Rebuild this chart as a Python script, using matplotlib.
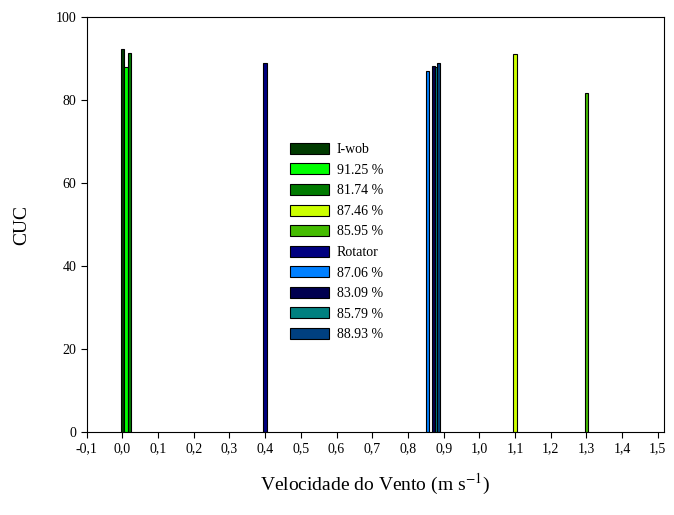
import matplotlib
matplotlib.use("Agg")
import matplotlib.pyplot as plt
import numpy as np

plt.rcParams['font.family'] = ['Liberation Serif', 'DejaVu Serif']
plt.rcParams['mathtext.fontset'] = 'stix'

# series: legend label, bar position (m/s), CUC value, colour
labels = ["I-wob", "91.25 %", "81.74 %", "87.46 %", "85.95 %",
          "Rotator", "87.06 %", "83.09 %", "85.79 %", "88.93 %"]
vento = [0.0, 0.01, 0.02, 1.1, 1.3,
         0.40, 0.855, 0.872, 0.880, 0.885]
cuc = [92.2, 88.0, 91.4, 91.2, 81.7,
       89.0, 87.0, 88.3, 88.0, 88.9]
cores = ["#003a00", "#00ff00", "#007a00", "#ccff00", "#44bb00",
         "#000080", "#0080ff", "#000050", "#008080", "#004080"]

xticks = np.round(np.arange(-0.1, 1.51, 0.1), 1)
xticklabels = [f"{t:.1f}".replace(".", ",") for t in xticks]

fig = plt.figure(figsize=(6.74, 5.15), dpi=100)
ax = fig.add_axes([0.1286, 0.161, 0.8564, 0.806])

for lab, x, v, c in zip(labels, vento, cuc, cores):
    ax.bar(x, v, width=0.01, color=c, edgecolor='black', linewidth=0.8, label=lab)

ax.set_xlim(-0.1, 1.517)
ax.set_ylim(0, 100)
ax.set_xticks(xticks)
ax.set_xticklabels(xticklabels, fontsize=10)
ax.set_yticks(range(0, 101, 20))
ax.tick_params(axis='y', labelsize=10)
ax.tick_params(direction='out', length=4, width=0.8)
for s in ax.spines.values():
    s.set_linewidth(0.8)

ax.set_ylabel("CUC", fontsize=14, labelpad=18)
ax.set_xlabel("Velocidade do Vento (m s$^{-1}$)", fontsize=14, labelpad=12)

ax.legend(loc='upper left', bbox_to_anchor=(0.33, 0.727), frameon=False,
          fontsize=10, handlelength=2.8, handleheight=0.85,
          labelspacing=0.52, handletextpad=0.6)

fig.savefig("out.png", dpi=100)
